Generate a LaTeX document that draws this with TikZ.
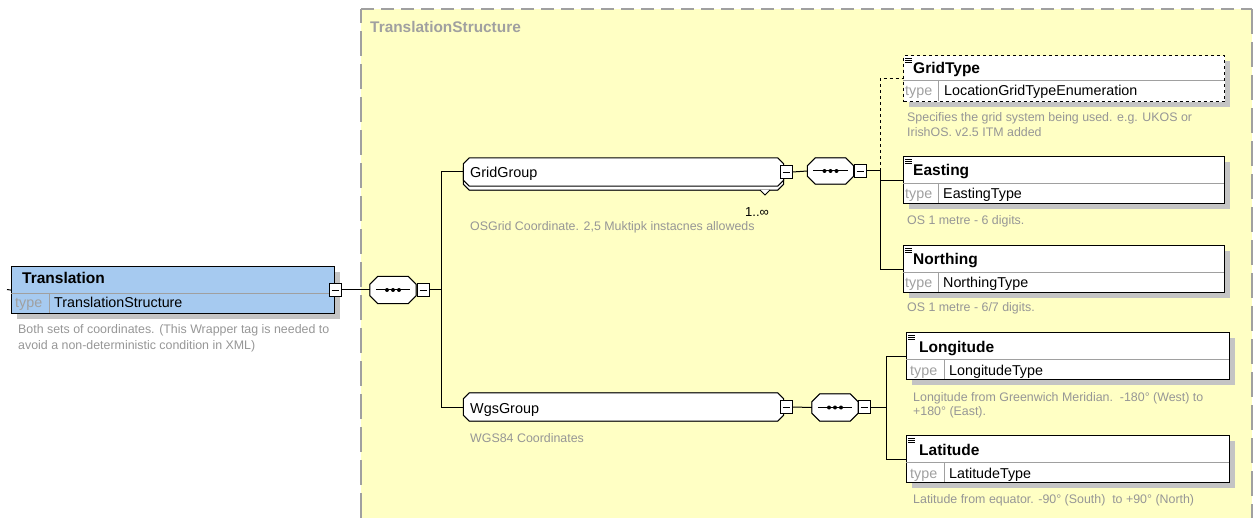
\documentclass[tikz,border=0pt]{standalone}
\usepackage{fontspec}
\setmainfont{Liberation Sans}
\usetikzlibrary{calc,shadows}

\definecolor{xsdyellow}{HTML}{FFFFC4}
\definecolor{xsdblue}{HTML}{A6CAF0}
\definecolor{xsdgray}{HTML}{A0A0A0}
\definecolor{xsdshadow}{HTML}{C4C4C4}
\definecolor{xsdtext}{HTML}{969696}

% octagon outline round a named node: name, chamfer, options
\newcommand{\octoline}[3]{%
  \draw[#3] ($(#1.north west)+(#2,0)$) -- ($(#1.north east)+(-#2,0)$)
    -- ($(#1.north east)+(0,#2)$) -- ($(#1.south east)+(0,-#2)$)
    -- ($(#1.south east)+(-#2,0)$) -- ($(#1.south west)+(#2,0)$)
    -- ($(#1.south west)+(0,-#2)$) -- ($(#1.north west)+(0,#2)$) -- cycle;}

\begin{document}
\begin{tikzpicture}[x=1pt,y=-1pt]
  \useasboundingbox (0,0) rectangle (1257,518);

 % styles
  \tikzset{
    xsdshadow/.style={drop shadow={shadow xshift=5pt, shadow yshift=-5pt, fill=xsdshadow, opacity=1}},
    elembox/.style={draw=black, fill=white, line width=1.2pt, anchor=north west,
      minimum height=47pt, inner sep=0pt, xsdshadow},
    groupbox/.style={rectangle, minimum width=320pt, minimum height=28pt, inner sep=0pt},
    seqbox/.style={rectangle, minimum width=46pt, minimum height=27pt, inner sep=0pt},
    octofill/.style={draw=black, fill=white, line width=1pt},
    octoshadow/.style={fill=xsdshadow, xshift=5pt, yshift=-5pt},
    minusbox/.style={draw=black, fill=white, line width=0.9pt, minimum width=12pt, minimum height=13pt,
      inner sep=0pt,
      path picture={\draw[black, line width=0.9pt] ([xshift=2.5pt]path picture bounding box.west) -- ([xshift=-2.5pt]path picture bounding box.east);}},
    namelbl/.style={font=\fontsize{15.5}{18}\selectfont\bfseries, anchor=base west, inner sep=0pt},
    typelbl/.style={font=\fontsize{14.3}{17}\selectfont, text=xsdgray, anchor=base west, inner sep=0pt},
    typeval/.style={font=\fontsize{14.3}{17}\selectfont, anchor=base west, inner sep=0pt},
    grouplbl/.style={font=\fontsize{14.4}{17}\selectfont, anchor=base west, inner sep=0pt},
    desc/.style={font=\fontsize{12.4}{15}\selectfont, text=xsdtext, anchor=base west, inner sep=0pt},
    conn/.style={line width=1pt}
  }

 % complex type area
  \fill[xsdyellow] (361,9) rectangle (1252,518);
  \draw[xsdgray, line width=1.6pt, dash pattern=on 13pt off 7pt] (361,9) -- (1252,9);
  \draw[xsdgray, line width=1.6pt, dash pattern=on 25pt off 8pt] (361,518) -- (361,9);
  \draw[xsdgray, line width=1.6pt, dash pattern=on 25pt off 8pt] (1252,9) -- (1252,518);
  \node[namelbl, text=xsdgray, font=\fontsize{15.4}{18}\selectfont\bfseries] (cttitle) at (370,33) {TranslationStructure};

 % root element
  \node[elembox, fill=xsdblue, minimum width=323pt] (translation) at (11,266) {};
  \draw[xsdgray] (11,293) -- (334,293);
  \draw[xsdgray] (49,293) -- (49,313);
  \node[namelbl] at (22,284) {Translation};
  \node[typelbl] at (15,308) {type};
  \node[typeval] at (54,308) {TranslationStructure};
  \node[desc] at (18,334) {Both sets of coordinates. (This Wrapper tag is needed to};
  \node[desc] at (18,349) {avoid a non-deterministic condition in XML)};
  \coordinate (tstub) at (7,289.5);
  \draw[conn] (tstub) -- (translation.west);
  \node[minusbox] (tminus) at (335,290) {};

 % main sequence
  \node[seqbox] (seqmain) at (393,290) {};
  \octoline{seqmain}{8}{octoshadow}
  \octoline{seqmain}{8}{octofill}
  \draw[conn] ([xshift=6pt]seqmain.west) -- ([xshift=-6pt]seqmain.east);
  \foreach \dx in {-6,0,6}
    \fill ([xshift=\dx pt]seqmain.center) circle (2pt);
  \node[minusbox] (seqmainm) at (423,290) {};
  \draw[conn] (tminus.east) -- (seqmain.west);
  \coordinate (spinemain) at (441,290);
  \draw[conn] (seqmainm.east) -- (spinemain);

 % groups
  \node[groupbox] (gridgroupbk) at (623.5,176) {};
  \node[groupbox] (gridgroup) at (623.5,172) {};
  \octoline{gridgroupbk}{6}{octoshadow}
  \octoline{gridgroupbk}{6}{octofill}
  \octoline{gridgroup}{6}{octofill}
  \draw[line width=0.8pt, fill=white] (760,190) -- (765,195) -- (770,190);
  \node[grouplbl] at (470,178) {GridGroup};
  \node[typeval, font=\fontsize{13}{15}\selectfont] at (745,217) {1..∞};
  \node[desc] at (470,231) {OSGrid Coordinate. 2,5 Muktipk instacnes alloweds};
  \node[minusbox] (gridgroupm) at (786,172) {};

  \node[groupbox] (wgsgroup) at (623.5,407) {};
  \octoline{wgsgroup}{6}{octoshadow}
  \octoline{wgsgroup}{6}{octofill}
  \node[grouplbl] at (470,413) {WgsGroup};
  \node[desc] at (470,442) {WGS84 Coordinates};
  \node[minusbox] (wgsgroupm) at (786,407) {};

  \draw[conn] (spinemain) |- (gridgroup.west);
  \draw[conn] (spinemain) |- (wgsgroup.west);

 % grid sequence
  \node[seqbox, minimum height=26pt] (seqgrid) at (830.5,171) {};
  \octoline{seqgrid}{8}{octoshadow}
  \octoline{seqgrid}{8}{octofill}
  \draw[conn] ([xshift=6pt]seqgrid.west) -- ([xshift=-6pt]seqgrid.east);
  \foreach \dx in {-6,0,6}
    \fill ([xshift=\dx pt]seqgrid.center) circle (2pt);
  \node[minusbox] (seqgridm) at (860,171) {};
  \draw[conn] (gridgroupm.east) -- (seqgrid.west);
  \coordinate (spinegrid) at (880,171);
  \draw[conn] (seqgridm.east) -- (spinegrid);

 % wgs sequence
  \node[seqbox] (seqwgs) at (835,407.5) {};
  \octoline{seqwgs}{8}{octoshadow}
  \octoline{seqwgs}{8}{octofill}
  \draw[conn] ([xshift=6pt]seqwgs.west) -- ([xshift=-6pt]seqwgs.east);
  \foreach \dx in {-6,0,6}
    \fill ([xshift=\dx pt]seqwgs.center) circle (2pt);
  \node[minusbox] (seqwgsm) at (864,407) {};
  \draw[conn] (wgsgroupm.east) -- (seqwgs.west);
  \coordinate (spinewgs) at (886,407);
  \draw[conn] (seqwgsm.east) -- (spinewgs);

 % grid elements
  \node[elembox, dashed, minimum width=321pt, minimum height=46pt] (gridtype) at (903,55) {};
  \draw[xsdgray] (903,80) -- (1224,80);
  \draw[xsdgray] (938,80) -- (938,101);
  \node[namelbl] at (913,74) {GridType};
  \node[typelbl] at (905,96) {type};
  \node[typeval] at (944,96) {LocationGridTypeEnumeration};
  \node[desc] at (907,122) {Specifies the grid system being used. e.g. UKOS or};
  \node[desc] at (907,137) {IrishOS. v2.5 ITM added};

  \node[elembox, minimum width=321pt] (easting) at (903,156) {};
  \draw[xsdgray] (903,183) -- (1224,183);
  \draw[xsdgray] (938,183) -- (938,203);
  \node[namelbl] at (913,176) {Easting};
  \node[typelbl] at (905,199) {type};
  \node[typeval] at (943,199) {EastingType};
  \node[desc] at (907,225) {OS 1 metre - 6 digits.};

  \node[elembox, minimum width=321pt] (northing) at (903,245) {};
  \draw[xsdgray] (903,272) -- (1224,272);
  \draw[xsdgray] (938,272) -- (938,292);
  \node[namelbl] at (913,265) {Northing};
  \node[typelbl] at (905,288) {type};
  \node[typeval] at (943,288) {NorthingType};
  \node[desc] at (907,312) {OS 1 metre - 6/7 digits.};

  \draw[conn, dashed] (spinegrid) |- (gridtype.west);
  \draw[conn] (spinegrid) |- (easting.west);
  \draw[conn] (spinegrid) |- (northing.west);

 % wgs elements
  \node[elembox, minimum width=323pt] (longitude) at (906,332) {};
  \draw[xsdgray] (906,359) -- (1229,359);
  \draw[xsdgray] (944,359) -- (944,379);
  \node[namelbl] at (919,352) {Longitude};
  \node[typelbl] at (910,375) {type};
  \node[typeval] at (949,375) {LongitudeType};
  \node[desc] at (913,401) {Longitude from Greenwich Meridian.\ \ -180° (West) to};
  \node[desc] at (913,415) {+180° (East).};

  \node[elembox, minimum width=323pt] (latitude) at (906,435) {};
  \draw[xsdgray] (906,462) -- (1229,462);
  \draw[xsdgray] (944,462) -- (944,482);
  \node[namelbl] at (919,455) {Latitude};
  \node[typelbl] at (910,478) {type};
  \node[typeval] at (949,478) {LatitudeType};
  \node[desc] at (913,503) {Latitude from equator. -90° (South)\ \ to +90° (North)};

  \draw[conn] (spinewgs) |- (longitude.west);
  \draw[conn] (spinewgs) |- (latitude.west);

 % element icons
  \foreach \e in {gridtype,easting,northing,longitude,latitude} {
    \foreach \dy in {3,5,7}
      \draw[line width=0.7pt] ($(\e.north west)+(2,\dy)$) -- ++(7,0);
  }
\end{tikzpicture}
\end{document}
